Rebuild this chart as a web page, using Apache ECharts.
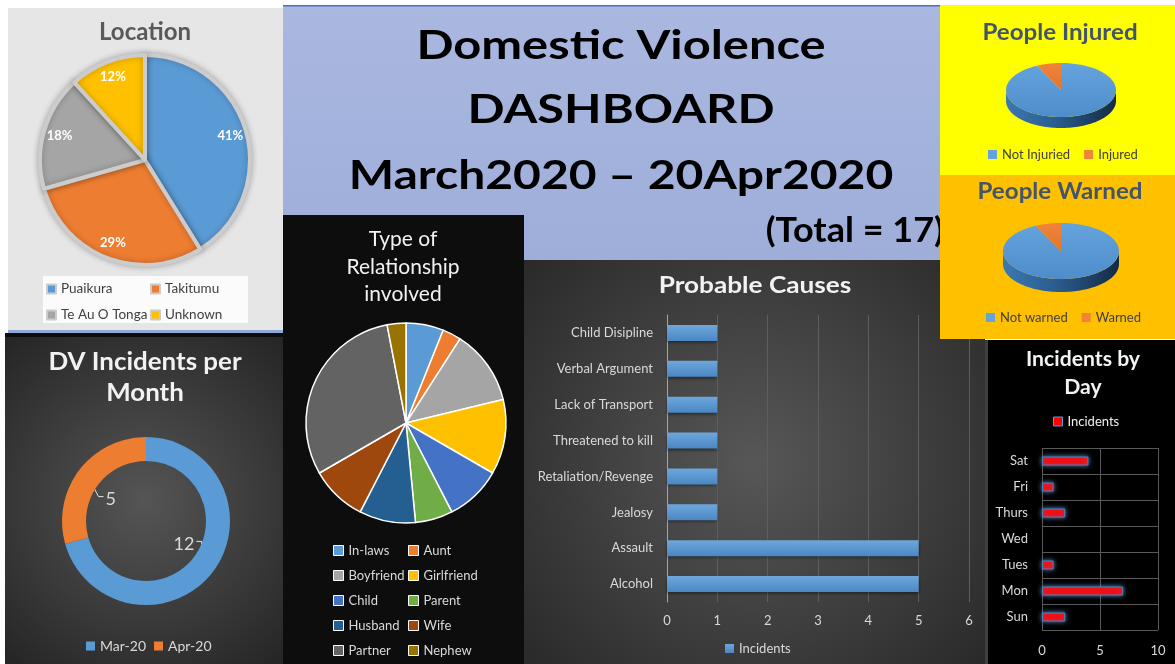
<!DOCTYPE html>
<html>
<head>
<meta charset="utf-8">
<title>Domestic Violence Dashboard</title>
<script src="https://cdn.jsdelivr.net/npm/echarts@6/dist/echarts.min.js"></script>
<style>
  html, body { margin: 0; padding: 0; background: #ffffff; }
  #chart { width: 1175px; height: 664px; }
</style>
</head>
<body>
<div id="chart"></div>
<script>
// ---- data ----
const locationNames = ["Puaikura", "Takitumu", "Te Au O Tonga", "Unknown"];
const locationValues = [7, 5, 3, 2];

const monthNames = ["Mar-20", "Apr-20"];
const monthValues = [12, 5];

const relationNames = ["In-laws", "Aunt", "Boyfriend", "Girlfriend", "Child",
  "Parent", "Husband", "Wife", "Partner", "Nephew"];
const relationValues = [2, 1, 4, 4, 3, 2, 3, 3, 10, 1];

// bottom -> top, as the category axis draws them
const causeNames = ["Alcohol", "Assault", "Jealosy", "Retaliation/Revenge",
  "Threatened to kill", "Lack of Transport", "Verbal Argument", "Child Disipline"];
const causeValues = [5, 5, 1, 1, 1, 1, 1, 1];

const dayNames = ["Sun", "Mon", "Tues", "Wed", "Thurs", "Fri", "Sat"];
const dayValues = [2, 7, 1, 0, 2, 1, 4];

const injuredNames = ["Not Injuried", "Injured"];
const injuredValues = [13, 1];
const warnedNames = ["Not warned", "Warned"];
const warnedValues = [13, 1];

const titleLines = ["Domestic Violence", "DASHBOARD", "March2020 \u2013 20Apr2020"];
const totalText = "(Total = 17)";

// ---- styling ----
const FONT = "Lato, 'Open Sans', sans-serif";
const officeColors = ["#5b9bd5", "#ed7d31", "#a5a5a5", "#ffc000", "#4472c4",
  "#70ad47", "#255e91", "#9e480e", "#636363", "#997300"];
const LOC_C = [145, 160];
const DV_C = [146, 521];

const chart = echarts.init(document.getElementById("chart"), null, { renderer: "canvas" });

// 3D-looking pie drawn with custom series, one series per slice so the legend works
function pie3D(names, values, colors, cx, cy, rx, ry, depth) {
  const total = values.reduce((a, b) => a + b, 0);
  let acc = 0;
  return names.map((name, i) => {
    const startVal = acc;
    acc += values[i];
    const c = colors[i];
    return {
      name: name,
      type: "custom",
      coordinateSystem: "none",
      silent: true,
      itemStyle: { color: c.top },
      data: [values[i]],
      renderItem: function (params, api) {
        const start = (startVal / total) * Math.PI * 2;
        const end = start + (api.value(0) / total) * Math.PI * 2;
        const pt = (t, dy) => [cx + rx * Math.sin(t), cy - ry * Math.cos(t) + dy];
        const steps = 80;
        const children = [];
        const s0 = Math.max(start, Math.PI / 2);
        const s1 = Math.min(end, Math.PI * 1.5);
        if (s1 > s0) {
          const side = [];
          for (let k = 0; k <= steps; k++) side.push(pt(s0 + ((s1 - s0) * k) / steps, 0));
          for (let k = steps; k >= 0; k--) side.push(pt(s0 + ((s1 - s0) * k) / steps, depth));
          children.push({
            type: "polygon",
            shape: { points: side },
            style: {
              fill: new echarts.graphic.LinearGradient(0, 0, 1, 0, [
                { offset: 0, color: c.sideL },
                { offset: 0.45, color: c.sideM },
                { offset: 1, color: c.sideR },
              ]),
            },
          });
        }
        const top = [[cx, cy]];
        for (let k = 0; k <= steps; k++) top.push(pt(start + ((end - start) * k) / steps, 0));
        children.push({
          type: "polygon",
          shape: { points: top },
          style: {
            fill: new echarts.graphic.LinearGradient(0, 0, 0, 1, [
              { offset: 0, color: c.top },
              { offset: 1, color: c.topB },
            ]),
          },
        });
        return { type: "group", children: children };
      },
    };
  });
}

const blue3D = { top: "#64a3dc", topB: "#4e8dca", sideL: "#3b78b2", sideM: "#2b5d8f", sideR: "#142a44" };
const orange3D = { top: "#ef843a", topB: "#e5752b", sideL: "#c25e1d", sideM: "#a04c16", sideR: "#6a320c" };

function txt(text, x, y, size, weight, fill, opts) {
  opts = opts || {};
  return {
    type: "text",
    x: x,
    y: y,
    z: opts.z || 0,
    scaleX: opts.sx || 1,
    silent: true,
    style: {
      text: text,
      font: weight + " " + size + "px " + FONT,
      fill: fill,
      align: opts.align || "center",
      textAlign: opts.align || "center",
      verticalAlign: "middle",
      textVerticalAlign: "middle",
    },
  };
}

function radial(inner, outer) {
  return new echarts.graphic.RadialGradient(0.5, 0.5, 0.75, [
    { offset: 0, color: inner },
    { offset: 1, color: outer },
  ]);
}

const graphics = [
  // panels
  { type: "rect", shape: { x: 8, y: 8, width: 275, height: 324 }, style: { fill: "#e7e6e6" } },
  { type: "rect", shape: { x: 8, y: 330, width: 275, height: 3 }, style: { fill: "#8fa8d8" } },
  { type: "rect", shape: { x: 5, y: 333, width: 278, height: 5 }, style: { fill: "#0d0d0d" } },
  { type: "rect", shape: { x: 283, y: 5, width: 657, height: 255 },
    style: { fill: new echarts.graphic.LinearGradient(0, 0, 0, 1, [
      { offset: 0, color: "#aab8e0" }, { offset: 1, color: "#9eaed9" }]) } },
  { type: "rect", shape: { x: 283, y: 5, width: 657, height: 1.5 }, style: { fill: "#4472c4" } },
  { type: "rect", shape: { x: 5, y: 337, width: 278, height: 327 }, style: { fill: radial("#555555", "#262626") } },
  { type: "rect", shape: { x: 283, y: 215, width: 241, height: 449 }, style: { fill: "#0d0d0d" } },
  { type: "rect", shape: { x: 524, y: 260, width: 461, height: 404 }, style: { fill: radial("#575757", "#2a2a2a") } },
  { type: "rect", shape: { x: 985, y: 340, width: 190, height: 324 }, style: { fill: "#000000" } },
  { type: "rect", shape: { x: 985, y: 340, width: 3, height: 324 }, style: { fill: "#3f3f3f" } },
  { type: "rect", z: 1, shape: { x: 940, y: 5, width: 235, height: 170 }, style: { fill: "#ffff00" } },
  { type: "rect", z: 1, shape: { x: 940, y: 175, width: 235, height: 164 }, style: { fill: "#ffc000" } },
  { type: "rect", shape: { x: 43, y: 276, width: 205, height: 47 }, style: { fill: "#fbfbfb" } },
  // titles
  txt("Location", 145, 32, 24, "bold", "#595959"),
  txt(titleLines[0], 621, 46, 40, "bold", "#000000", { sx: 1.22 }),
  txt(titleLines[1], 621, 110, 40, "bold", "#000000", { sx: 1.22 }),
  txt(titleLines[2], 621, 176, 40, "bold", "#000000", { sx: 1.2 }),
  txt(totalText, 944, 231, 34, "bold", "#000000", { align: "right", sx: 1.06 }),
  txt("People Injured", 1060, 33, 23, "bold", "#44546a", { z: 1, sx: 1.05 }),
  txt("People Warned", 1060, 192, 23, "bold", "#44546a", { z: 1, sx: 1.05 }),
  txt("DV Incidents per", 145, 362, 24, "bold", "#f2f2f2", { sx: 1.08 }),
  txt("Month", 145, 393, 24, "bold", "#f2f2f2", { sx: 1.08 }),
  txt("Type of", 403, 239, 21, "normal", "#f2f2f2"),
  txt("Relationship", 403, 267, 21, "normal", "#f2f2f2"),
  txt("involved", 403, 294, 21, "normal", "#f2f2f2"),
  txt("Probable Causes", 755, 286, 22, "bold", "#f2f2f2", { sx: 1.19 }),
  txt("Incidents by", 1083, 360, 20, "bold", "#f2f2f2", { sx: 1.06 }),
  txt("Day", 1083, 388, 20, "bold", "#f2f2f2", { sx: 1.06 }),
];

const legendBase = {
  selectedMode: false,
  icon: "rect",
  itemWidth: 9,
  itemHeight: 9,
  padding: 0,
  textStyle: { fontSize: 13, fontFamily: FONT },
};
function legend(extra) {
  return Object.assign({}, legendBase, extra, {
    textStyle: Object.assign({}, legendBase.textStyle, extra.textStyle || {}),
  });
}

const option = {
  animation: false,
  textStyle: { fontFamily: FONT },
  graphic: graphics,
  legend: [
    legend({ data: [locationNames[0], locationNames[2]], orient: "vertical", left: 46, top: 282, itemGap: 12, textStyle: { color: "#404040", fontSize: 13.5 } }),
    legend({ data: [locationNames[1], locationNames[3]], orient: "vertical", left: 150, top: 282, itemGap: 12, textStyle: { color: "#404040", fontSize: 13.5 } }),
    legend({ data: monthNames, left: 86, top: 639, itemGap: 8, textStyle: { color: "#d9d9d9", fontSize: 14 } }),
    legend({ data: injuredNames, left: 988, top: 148, itemGap: 14, textStyle: { color: "#404040" } }),
    legend({ data: warnedNames, left: 986, top: 311, itemGap: 14, textStyle: { color: "#404040" } }),
    legend({ data: relationNames.filter((n, i) => i % 2 === 0), orient: "vertical", left: 333, top: 544, itemGap: 12,
      itemStyle: { borderColor: "#ffffff", borderWidth: 1 }, itemWidth: 10, itemHeight: 10, textStyle: { color: "#d9d9d9" } }),
    legend({ data: relationNames.filter((n, i) => i % 2 === 1), orient: "vertical", left: 408, top: 544, itemGap: 12,
      itemStyle: { borderColor: "#ffffff", borderWidth: 1 }, itemWidth: 10, itemHeight: 10, textStyle: { color: "#d9d9d9" } }),
    legend({ data: ["Incidents"], left: 725, top: 642, textStyle: { color: "#d9d9d9" } }),
    legend({ data: [{ name: "Incidents", itemStyle: { color: "#ff0000", borderColor: "#5b9bd5", borderWidth: 1 } }],
      left: 1053, top: 415, textStyle: { color: "#f2f2f2" } }),
  ],
  grid: [
    { left: 667, right: 206, top: 315, bottom: 62 },
    { left: 1042, right: 17, top: 448, bottom: 34, show: true, borderColor: "#595959", borderWidth: 1 },
  ],
  xAxis: [
    {
      gridIndex: 0, type: "value", min: 0, max: 6, interval: 1,
      axisLine: { show: false }, axisTick: { show: false },
      axisLabel: { color: "#d9d9d9", fontSize: 13, margin: 12 },
      splitLine: { lineStyle: { color: "#5e5e5e", width: 1 } },
    },
    {
      gridIndex: 1, type: "value", min: 0, max: 10, interval: 5,
      axisLine: { show: false }, axisTick: { show: false },
      axisLabel: { color: "#d9d9d9", fontSize: 13, margin: 14 },
      splitLine: { lineStyle: { color: "#595959", width: 1 } },
    },
  ],
  yAxis: [
    {
      gridIndex: 0, type: "category", data: causeNames,
      axisLine: { show: true, lineStyle: { color: "#a6a6a6", width: 1 } },
      axisTick: { show: false },
      axisLabel: { color: "#d9d9d9", fontSize: 13, margin: 14 },
    },
    {
      gridIndex: 1, type: "category", data: dayNames,
      axisLine: { show: false }, axisTick: { show: false },
      axisLabel: { color: "#d9d9d9", fontSize: 13, margin: 14 },
      splitLine: { show: true, lineStyle: { color: "#595959", width: 1 } },
    },
  ],
  series: [
    {
      name: "Location",
      type: "pie",
      center: LOC_C,
      radius: [0, 105],
      startAngle: 90,
      silent: true,
      data: locationNames.map((n, i) => ({ name: n, value: locationValues[i], itemStyle: { color: officeColors[i] } })),
      itemStyle: { borderColor: "#cdcccc", borderWidth: 4, shadowBlur: 6, shadowColor: "rgba(0,0,0,0.25)" },
      label: {
        position: "inside",
        color: "#ffffff",
        fontWeight: "bold",
        fontSize: 13,
        formatter: (p) => Math.round(p.percent) + "%",
      },
      labelLayout: function (p) {
        const r = p.labelRect;
        const lx = r.x + r.width / 2, ly = r.y + r.height / 2;
        return { x: LOC_C[0] + (lx - LOC_C[0]) * 1.6, y: LOC_C[1] + (ly - LOC_C[1]) * 1.6, align: "center", verticalAlign: "middle" };
      },
    },
    {
      name: "Month",
      type: "pie",
      center: DV_C,
      radius: [60, 84],
      startAngle: 90,
      silent: true,
      data: monthNames.map((n, i) => ({
        name: n, value: monthValues[i],
        itemStyle: { color: officeColors[i] },
      })),
      label: { position: "outside", color: "#d9d9d9", fontSize: 18, formatter: "{c}" },
      labelLine: { show: true, length: 6, length2: 6, lineStyle: { color: "#e6e6e6", width: 1 } },
      labelLayout: function (p) {
        const a = p.labelLinePoints && p.labelLinePoints[0];
        if (!a) return {};
        const dx = a[0] - DV_C[0], dy = a[1] - DV_C[1];
        const d = Math.sqrt(dx * dx + dy * dy);
        const ux = dx / d, uy = dy / d;
        const s = [DV_C[0] + ux * 72, DV_C[1] + uy * 72];
        const e = ux < 0 ? [s[0] + 10, s[1] + 19] : [s[0] - 2, s[1] - 23];
        const sg = ux < 0 ? 1 : -1;
        const f = [e[0] + sg * 5, e[1]];
        return {
          x: f[0] + sg * 2,
          y: e[1] + 3,
          align: ux < 0 ? "left" : "right",
          verticalAlign: "middle",
          labelLinePoints: [s, e, f],
        };
      },
    },
    {
      name: "Relationship",
      type: "pie",
      center: [406, 423],
      radius: [0, 100],
      startAngle: 90,
      silent: true,
      data: relationNames.map((n, i) => ({ name: n, value: relationValues[i], itemStyle: { color: officeColors[i] } })),
      itemStyle: { borderColor: "#ffffff", borderWidth: 1.5 },
      label: { show: false },
      labelLine: { show: false },
    },
    {
      name: "Incidents",
      type: "bar",
      xAxisIndex: 0,
      yAxisIndex: 0,
      data: causeValues,
      barWidth: 16,
      silent: true,
      itemStyle: {
        color: new echarts.graphic.LinearGradient(0, 0, 0, 1, [
          { offset: 0, color: "#6ea7dc" },
          { offset: 1, color: "#4a87c3" },
        ]),
        shadowColor: "rgba(0,0,0,0.45)",
        shadowBlur: 3,
        shadowOffsetY: 2,
      },
    },
    {
      name: "Incidents",
      type: "bar",
      xAxisIndex: 1,
      yAxisIndex: 1,
      // a zero bar is left without outline, as in the original
      data: dayValues.map((v) => (v === 0 ? { value: v, itemStyle: { borderWidth: 0, shadowBlur: 0 } } : v)),
      barWidth: 9,
      silent: true,
      itemStyle: {
        color: "#ff0000",
        borderColor: "#4f81bd",
        borderWidth: 1,
        shadowColor: "rgba(91,155,213,0.9)",
        shadowBlur: 5,
      },
    },
  ]
    .concat(pie3D(injuredNames, injuredValues, [blue3D, orange3D], 1061, 90, 55, 27, 11))
    .concat(pie3D(warnedNames, warnedValues, [blue3D, orange3D], 1061, 251, 58, 28, 13)),
};

chart.setOption(option);
window.addEventListener("resize", () => chart.resize());
</script>
</body>
</html>
